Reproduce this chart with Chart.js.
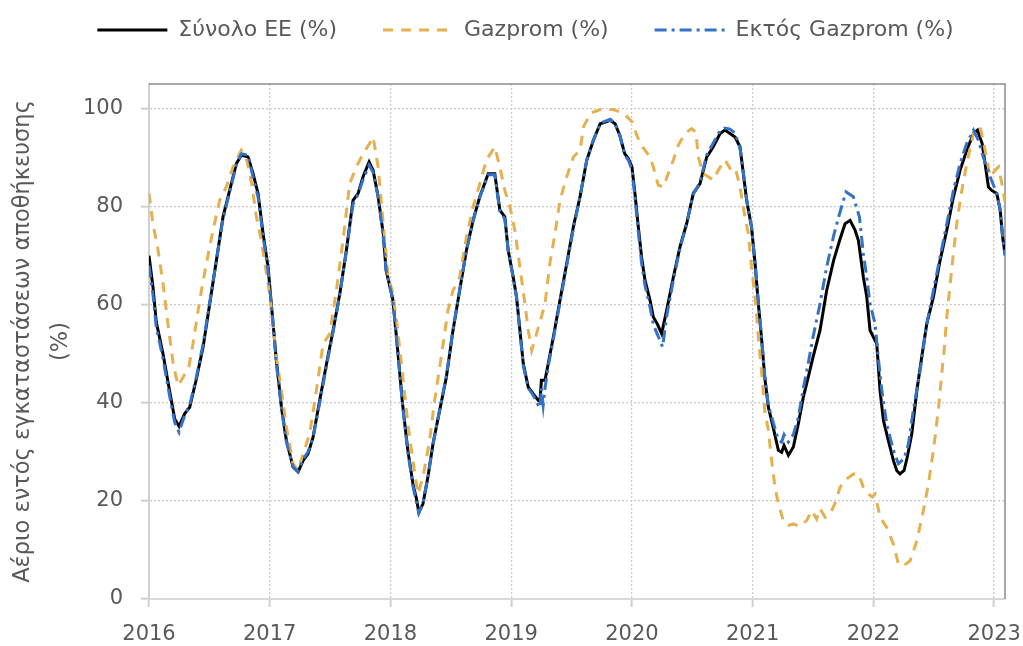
<!DOCTYPE html>
<html>
<head>
<meta charset="utf-8">
<script src="https://cdn.jsdelivr.net/npm/chart.js@4/dist/chart.umd.min.js"></script>
<style>
  html, body { margin: 0; padding: 0; background: #fff; }
  #wrap { width: 1023px; height: 646px; }
</style>
</head>
<body>
<div id="wrap"><canvas id="chart" width="1023" height="646"></canvas></div>
<script>
// labels
const seriesLabels = ["Σύνολο ΕΕ (%)", "Gazprom (%)", "Εκτός Gazprom (%)"];
const yAxisTitle = ["Αέριο εντός εγκαταστάσεων αποθήκευσης", "(%)"];
const yearTicks = [2016, 2017, 2018, 2019, 2020, 2021, 2022, 2023];
const valueTicks = [0, 20, 40, 60, 80, 100];

// Σύνολο ΕΕ (%) - dates as fractional years
const totalDates = [
  2016.000, 2016.033, 2016.060, 2016.116, 2016.170, 2016.213, 2016.249, 2016.296, 2016.337, 2016.390,
  2016.448, 2016.503, 2016.558, 2016.613, 2016.668, 2016.724, 2016.765, 2016.820, 2016.862, 2016.903,
  2016.945, 2016.986, 2017.028, 2017.055, 2017.097, 2017.138, 2017.193, 2017.235, 2017.276, 2017.317,
  2017.359, 2017.414, 2017.470, 2017.525, 2017.580, 2017.635, 2017.690, 2017.732, 2017.773, 2017.823,
  2017.856, 2017.898, 2017.940, 2017.964, 2018.020, 2018.060, 2018.100, 2018.144, 2018.186, 2018.213,
  2018.235, 2018.269, 2018.310, 2018.352, 2018.407, 2018.463, 2018.518, 2018.573, 2018.629, 2018.684,
  2018.740, 2018.780, 2018.809, 2018.864, 2018.906, 2018.947, 2018.975, 2019.017, 2019.044, 2019.072,
  2019.100, 2019.141, 2019.183, 2019.224, 2019.240, 2019.250, 2019.280, 2019.307, 2019.349, 2019.404,
  2019.460, 2019.515, 2019.570, 2019.626, 2019.680, 2019.737, 2019.820, 2019.860, 2019.900, 2019.940,
  2019.970, 2020.000, 2020.025, 2020.050, 2020.080, 2020.108, 2020.150, 2020.177, 2020.210, 2020.246,
  2020.287, 2020.343, 2020.398, 2020.453, 2020.508, 2020.564, 2020.619, 2020.674, 2020.730, 2020.770,
  2020.812, 2020.854, 2020.895, 2020.923, 2020.950, 2020.990, 2021.020, 2021.047, 2021.075, 2021.100,
  2021.130, 2021.170, 2021.213, 2021.240, 2021.260, 2021.296, 2021.337, 2021.378, 2021.420, 2021.460,
  2021.500, 2021.558, 2021.613, 2021.670, 2021.720, 2021.765, 2021.807, 2021.848, 2021.876, 2021.917,
  2021.945, 2021.972, 2022.000, 2022.028, 2022.055, 2022.083, 2022.124, 2022.166, 2022.193, 2022.220,
  2022.254, 2022.280, 2022.318, 2022.360, 2022.400, 2022.442, 2022.497, 2022.552, 2022.608, 2022.663,
  2022.718, 2022.773, 2022.829, 2022.862, 2022.900, 2022.925, 2022.953, 2022.980, 2023.022, 2023.050,
  2023.070, 2023.090
];
const totalValues = [
  70.0, 63.6, 56.5, 50.0, 42.5, 36.7, 35.2, 37.8, 39.1, 44.6,
  51.4, 60.2, 69.0, 77.9, 83.3, 88.8, 90.5, 90.1, 86.7, 82.7,
  74.5, 67.7, 56.1, 48.6, 39.1, 32.3, 26.9, 25.9, 28.2, 29.6,
  33.0, 40.5, 47.9, 54.8, 62.2, 71.1, 81.3, 82.7, 86.1, 89.1,
  87.4, 82.0, 74.5, 67.0, 61.0, 50.7, 39.8, 30.3, 23.5, 20.7,
  17.7, 19.4, 24.8, 31.6, 38.4, 45.2, 54.8, 62.9, 71.1, 77.2,
  82.0, 84.7, 86.7, 86.7, 79.3, 77.9, 71.1, 65.6, 61.6, 54.8,
  48.0, 43.2, 41.8, 40.5, 40.8, 44.6, 44.6, 48.0, 53.4, 60.9,
  68.4, 75.9, 82.0, 89.5, 93.5, 96.9, 97.6, 96.9, 94.5, 90.8,
  89.8, 88.1, 82.7, 76.5, 69.7, 65.0, 60.9, 57.5, 56.1, 54.1,
  58.8, 65.6, 71.8, 76.5, 82.7, 84.7, 90.1, 92.2, 94.9, 95.6,
  94.9, 94.2, 92.2, 86.7, 81.3, 75.9, 68.4, 60.2, 52.7, 45.2,
  39.1, 35.0, 30.3, 29.9, 31.3, 29.3, 31.0, 35.7, 41.2, 45.2,
  49.3, 54.8, 62.9, 69.0, 73.1, 76.5, 77.2, 75.2, 73.1, 65.6,
  61.6, 54.8, 53.4, 52.0, 42.5, 36.4, 32.3, 28.2, 26.2, 25.5,
  26.2, 28.9, 33.7, 42.5, 49.3, 56.1, 61.6, 69.0, 75.2, 82.0,
  87.4, 91.5, 94.9, 95.6, 92.9, 88.8, 84.0, 83.3, 82.7, 79.3,
  73.8, 70.4
];

// Gazprom (%)
const gazpromDates = [
  2016.000, 2016.033, 2016.075, 2016.116, 2016.157, 2016.200, 2016.240, 2016.268, 2016.330, 2016.364,
  2016.420, 2016.475, 2016.530, 2016.586, 2016.640, 2016.696, 2016.765, 2016.810, 2016.850, 2016.890,
  2016.930, 2016.960, 2017.000, 2017.028, 2017.055, 2017.097, 2017.138, 2017.193, 2017.235, 2017.276,
  2017.331, 2017.386, 2017.442, 2017.497, 2017.552, 2017.607, 2017.662, 2017.718, 2017.773, 2017.828,
  2017.856, 2017.898, 2017.940, 2017.980, 2018.020, 2018.060, 2018.100, 2018.144, 2018.186, 2018.227,
  2018.269, 2018.324, 2018.366, 2018.420, 2018.476, 2018.518, 2018.573, 2018.629, 2018.684, 2018.740,
  2018.795, 2018.864, 2018.906, 2018.947, 2018.990, 2019.030, 2019.072, 2019.114, 2019.141, 2019.170,
  2019.210, 2019.250, 2019.280, 2019.320, 2019.363, 2019.404, 2019.460, 2019.515, 2019.570, 2019.600,
  2019.654, 2019.737, 2019.848, 2019.930, 2019.960, 2020.000, 2020.025, 2020.066, 2020.108, 2020.150,
  2020.177, 2020.218, 2020.260, 2020.300, 2020.343, 2020.384, 2020.440, 2020.494, 2020.530, 2020.550,
  2020.590, 2020.633, 2020.674, 2020.715, 2020.770, 2020.812, 2020.854, 2020.895, 2020.936, 2020.964,
  2020.990, 2021.020, 2021.047, 2021.075, 2021.100, 2021.130, 2021.157, 2021.185, 2021.213, 2021.254,
  2021.296, 2021.337, 2021.390, 2021.447, 2021.489, 2021.530, 2021.558, 2021.600, 2021.640, 2021.680,
  2021.724, 2021.780, 2021.834, 2021.876, 2021.917, 2021.958, 2021.990, 2022.014, 2022.055, 2022.110,
  2022.166, 2022.207, 2022.249, 2022.304, 2022.360, 2022.414, 2022.456, 2022.497, 2022.540, 2022.566,
  2022.586, 2022.608, 2022.650, 2022.690, 2022.732, 2022.773, 2022.829, 2022.884, 2022.925, 2022.967,
  2023.008, 2023.036, 2023.064, 2023.090
];
const gazpromValues = [
  82.7, 76.5, 71.1, 64.3, 56.1, 48.0, 43.5, 44.6, 47.3, 52.0,
  60.9, 68.4, 75.2, 81.3, 84.0, 88.1, 91.5, 89.5, 84.7, 77.9,
  73.1, 68.4, 62.2, 56.1, 49.3, 42.5, 35.0, 27.6, 26.2, 29.6,
  33.7, 42.5, 52.0, 54.1, 62.9, 73.1, 84.7, 88.1, 90.8, 92.9,
  94.2, 88.1, 76.5, 66.0, 62.2, 54.8, 45.9, 35.7, 28.2, 21.4,
  24.8, 32.3, 40.5, 49.3, 58.8, 62.9, 65.6, 73.8, 79.9, 84.7,
  89.5, 92.2, 88.1, 83.3, 79.9, 75.2, 67.7, 60.2, 54.8, 50.7,
  54.1, 57.5, 60.2, 68.4, 74.5, 81.3, 86.1, 90.1, 91.5, 96.3,
  99.0, 99.8, 99.8, 99.0, 98.3, 97.3, 95.6, 92.9, 91.5, 90.1,
  88.1, 84.4, 84.0, 86.7, 89.5, 92.5, 94.9, 95.9, 95.2, 90.1,
  86.7, 86.1, 85.4, 87.4, 89.5, 87.8, 88.1, 84.0, 77.9, 74.5,
  67.7, 61.6, 53.4, 45.9, 38.4, 34.4, 28.2, 22.8, 19.4, 16.0,
  15.0, 15.3, 14.8, 16.0, 18.0, 16.3, 18.4, 16.7, 17.3, 19.4,
  22.8, 24.5, 25.5, 25.5, 22.8, 21.4, 20.8, 21.4, 16.7, 14.6,
  11.2, 7.1, 6.8, 7.8, 11.9, 18.0, 23.5, 30.3, 39.1, 45.9,
  50.7, 57.5, 67.7, 76.5, 83.3, 88.8, 94.9, 96.3, 91.5, 86.1,
  87.4, 88.1, 84.7, 81.0
];

// Εκτός Gazprom (%)
const nonGazpromDates = [
  2016.000, 2016.033, 2016.060, 2016.116, 2016.170, 2016.213, 2016.249, 2016.296, 2016.337, 2016.390,
  2016.448, 2016.503, 2016.558, 2016.613, 2016.668, 2016.724, 2016.765, 2016.820, 2016.862, 2016.903,
  2016.945, 2016.986, 2017.028, 2017.055, 2017.097, 2017.138, 2017.193, 2017.235, 2017.276, 2017.317,
  2017.359, 2017.414, 2017.470, 2017.525, 2017.580, 2017.635, 2017.690, 2017.732, 2017.773, 2017.823,
  2017.856, 2017.898, 2017.940, 2017.964, 2018.020, 2018.060, 2018.100, 2018.144, 2018.186, 2018.213,
  2018.235, 2018.269, 2018.310, 2018.352, 2018.407, 2018.463, 2018.518, 2018.573, 2018.629, 2018.684,
  2018.740, 2018.780, 2018.809, 2018.864, 2018.906, 2018.947, 2018.975, 2019.017, 2019.044, 2019.072,
  2019.100, 2019.141, 2019.183, 2019.224, 2019.240, 2019.250, 2019.265, 2019.280, 2019.307, 2019.349,
  2019.404, 2019.460, 2019.515, 2019.570, 2019.626, 2019.680, 2019.737, 2019.820, 2019.860, 2019.900,
  2019.940, 2019.970, 2020.000, 2020.025, 2020.050, 2020.080, 2020.108, 2020.150, 2020.177, 2020.210,
  2020.254, 2020.287, 2020.343, 2020.398, 2020.453, 2020.508, 2020.564, 2020.619, 2020.674, 2020.730,
  2020.770, 2020.812, 2020.854, 2020.895, 2020.923, 2020.950, 2020.990, 2021.020, 2021.047, 2021.075,
  2021.100, 2021.130, 2021.170, 2021.213, 2021.240, 2021.260, 2021.296, 2021.337, 2021.378, 2021.420,
  2021.460, 2021.500, 2021.558, 2021.613, 2021.670, 2021.720, 2021.773, 2021.834, 2021.884, 2021.917,
  2021.945, 2021.972, 2022.014, 2022.040, 2022.070, 2022.110, 2022.166, 2022.207, 2022.254, 2022.290,
  2022.330, 2022.387, 2022.442, 2022.497, 2022.552, 2022.608, 2022.663, 2022.718, 2022.773, 2022.829,
  2022.870, 2022.910, 2022.967, 2023.022, 2023.050, 2023.077, 2023.090
];
const nonGazpromValues = [
  68.0, 62.0, 55.5, 49.0, 41.5, 36.0, 34.0, 37.5, 39.5, 45.0,
  52.0, 60.5, 69.0, 77.5, 83.0, 88.5, 90.8, 90.5, 86.0, 82.0,
  74.0, 67.0, 56.0, 48.0, 39.0, 32.0, 27.0, 26.0, 28.5, 30.0,
  33.0, 40.0, 47.5, 54.5, 62.0, 71.0, 80.5, 82.5, 85.5, 88.5,
  87.0, 82.0, 74.0, 67.0, 61.0, 50.5, 39.5, 30.0, 23.0, 20.0,
  17.5, 19.5, 25.0, 31.5, 38.5, 45.5, 55.0, 63.0, 71.0, 77.0,
  82.0, 84.5, 86.5, 86.5, 79.0, 77.5, 71.0, 65.5, 61.5, 54.5,
  47.5, 43.0, 41.5, 39.5, 39.0, 43.0, 39.5, 43.0, 47.5, 53.0,
  60.5, 68.0, 75.5, 82.0, 89.5, 93.5, 97.0, 97.8, 97.0, 94.5,
  90.5, 89.5, 87.5, 82.0, 75.5, 68.5, 64.0, 59.5, 56.0, 54.0,
  51.4, 57.5, 65.0, 71.5, 76.5, 82.5, 85.0, 90.5, 93.0, 95.5,
  96.0, 95.8, 95.0, 92.0, 87.0, 81.5, 76.0, 68.5, 60.5, 53.0,
  45.5, 39.5, 36.0, 32.5, 32.0, 33.5, 32.0, 33.5, 37.0, 43.0,
  48.0, 53.4, 60.2, 67.7, 74.0, 78.6, 83.0, 82.0, 77.9, 70.4,
  65.6, 60.2, 56.1, 49.3, 42.5, 35.7, 30.3, 27.6, 28.6, 31.6,
  38.4, 46.6, 56.1, 62.9, 69.7, 76.5, 83.3, 88.8, 92.9, 95.6,
  93.5, 90.1, 86.1, 82.7, 79.3, 72.4, 70.0
];

const FONT = "'DejaVu Sans', sans-serif";
const TEXT = "#595959";
const PAD_LEFT = 46;

const toPoints = (xs, ys) => xs.map((x, i) => ({ x: x, y: ys[i] }));

// one legend row, and a taller legend box so the plot starts where the reference does
const legendHeight = {
  id: "legendHeight",
  beforeInit(chart) {
    const fit = chart.legend.fit;
    chart.legend.fit = function () {
      const mw = this.maxWidth;
      this.maxWidth = mw + 200;
      fit.call(this);
      this.maxWidth = mw;
      this.width = mw;
      this.height = 111;
    };
  }
};

// darker plot-area frame on top and right
const plotFrame = {
  id: "plotFrame",
  beforeDatasetsDraw(chart) {
    const { ctx, chartArea: a } = chart;
    ctx.save();
    ctx.strokeStyle = "#8c8c8c";
    ctx.lineWidth = 1.5;
    ctx.beginPath();
    ctx.moveTo(a.left, a.top);
    ctx.lineTo(a.right, a.top);
    ctx.lineTo(a.right, a.bottom);
    ctx.stroke();
    ctx.restore();
  }
};

const gridOpts = {
  color: "#cccccc",
  lineWidth: 1.3,
  tickLength: 8,
  tickColor: "#d0d0d0",
  tickWidth: 2,
  tickBorderDash: []
};

new Chart(document.getElementById("chart"), {
  type: "line",
  data: {
    datasets: [
      {
        label: seriesLabels[0],
        data: toPoints(totalDates, totalValues),
        borderColor: "#000000",
        backgroundColor: "#000000",
        borderWidth: 3,
        order: 3
      },
      {
        label: seriesLabels[1],
        data: toPoints(gazpromDates, gazpromValues),
        borderColor: "#E5B04F",
        backgroundColor: "#E5B04F",
        borderWidth: 3,
        borderDash: [10, 8],
        order: 2
      },
      {
        label: seriesLabels[2],
        data: toPoints(nonGazpromDates, nonGazpromValues),
        borderColor: "#3572C6",
        backgroundColor: "#3572C6",
        borderWidth: 3,
        borderDash: [12, 5, 3, 5],
        order: 1
      }
    ]
  },
  options: {
    responsive: false,
    animation: false,
    devicePixelRatio: 1,
    elements: { point: { radius: 0 }, line: { tension: 0 } },
    layout: { padding: { left: PAD_LEFT, right: 18, top: -27, bottom: 0 } },
    plugins: {
      legend: {
        position: "top",
        labels: {
          usePointStyle: true,
          pointStyle: "line",
          pointStyleWidth: 70,
          boxHeight: 22,
          padding: 46,
          color: TEXT,
          font: { family: FONT, size: 22 },
          sort: (a, b) => a.datasetIndex - b.datasetIndex,
          generateLabels: chart => {
            const items = Chart.defaults.plugins.legend.labels.generateLabels(chart);
            items.forEach(it => {
              const ds = chart.data.datasets[it.datasetIndex];
              it.lineDash = ds.borderDash || [];
              it.lineWidth = ds.borderWidth;
              it.strokeStyle = ds.borderColor;
            });
            return items;
          }
        }
      },
      tooltip: { enabled: false }
    },
    scales: {
      x: {
        type: "linear",
        min: 2016,
        max: 2023.09,
        afterBuildTicks: s => { s.ticks = yearTicks.map(v => ({ value: v })); },
        afterFit: s => { s.height = 47; s.paddingLeft = 0; s.paddingRight = 0; },
        grid: gridOpts,
        border: { color: "#d9d9d9", width: 2, dash: [2, 2] },
        ticks: {
          color: TEXT,
          font: { family: FONT, size: 21 },
          padding: 15,
          maxRotation: 0,
          autoSkip: false,
          callback: v => String(v)
        }
      },
      y: {
        min: 0,
        max: 105,
        afterBuildTicks: s => { s.ticks = valueTicks.map(v => ({ value: v })); },
        afterFit: s => { s.width = 149 - PAD_LEFT; s.paddingTop = 0; s.paddingBottom = 0; },
        grid: gridOpts,
        border: { color: "#d0d0d0", width: 2, dash: [2, 2] },
        ticks: {
          color: TEXT,
          font: { family: FONT, size: 21 },
          padding: 18
        },
        title: {
          display: true,
          text: yAxisTitle,
          color: TEXT,
          font: { family: FONT, size: 22.5, lineHeight: "38px" },
          padding: { top: 23 - PAD_LEFT - 19, bottom: 0 }
        }
      }
    }
  },
  plugins: [legendHeight, plotFrame]
});
</script>
</body>
</html>
